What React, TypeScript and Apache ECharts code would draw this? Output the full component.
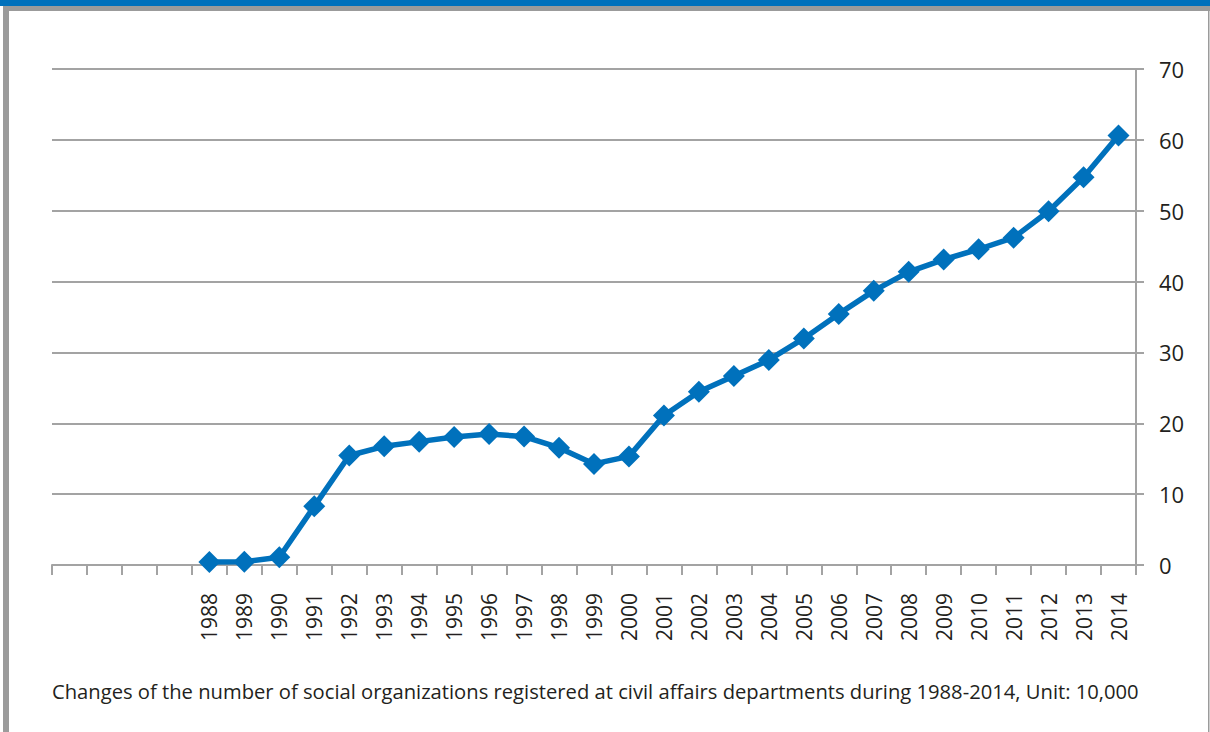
import React, { useEffect, useRef } from "react";
import * as echarts from "echarts";

const leadingBlanks = ["", " ", "  ", "   "];
const years = [
  "1988", "1989", "1990", "1991", "1992", "1993", "1994", "1995", "1996",
  "1997", "1998", "1999", "2000", "2001", "2002", "2003", "2004", "2005",
  "2006", "2007", "2008", "2009", "2010", "2011", "2012", "2013", "2014",
];
const counts = [
  0.44, 0.45, 1.09, 8.28, 15.45, 16.75, 17.41, 18.06, 18.48,
  18.13, 16.56, 14.27, 15.33, 21.09, 24.45, 26.66, 28.94, 31.98,
  35.44, 38.69, 41.37, 43.11, 44.56, 46.2, 49.93, 54.72, 60.6,
];
const yTicks = { min: 0, max: 70, interval: 10 };
const captionText =
  "Changes of the number of social organizations registered at civil affairs departments during 1988-2014, Unit: 10,000";

const FONT = "'Open Sans', 'Noto Sans', sans-serif";
const BLUE = "#0071BC";
const GREY = "#A3A3A3";
const TEXT = "#231F20";

export default function App() {
  const ref = useRef<HTMLDivElement>(null);
  useEffect(() => {
    if (!ref.current) return;
    const chart = echarts.init(ref.current, undefined, { renderer: "svg" });
    const categories = [...leadingBlanks, ...years];
    const seriesData = [...leadingBlanks.map(() => "-"), ...counts];
    chart.setOption({
      animation: false,
      backgroundColor: "#ffffff",
      textStyle: { fontFamily: FONT },
      grid: { left: 52, right: 74, top: 69, bottom: 167, containLabel: false },
      xAxis: {
        type: "category",
        data: categories,
        boundaryGap: true,
        axisLine: { show: true, lineStyle: { color: GREY, width: 2 } },
        axisTick: { show: true, interval: 0, length: 10, lineStyle: { color: GREY, width: 2 } },
        axisLabel: {
          interval: 0,
          rotate: 90,
          margin: 28,
          fontSize: 21,
          color: TEXT,
          fontFamily: FONT,
        },
        splitLine: { show: false },
      },
      yAxis: {
        type: "value",
        position: "right",
        min: yTicks.min,
        max: yTicks.max,
        interval: yTicks.interval,
        axisLine: { show: true, lineStyle: { color: GREY, width: 2 } },
        axisTick: { show: true, length: 8, lineStyle: { color: GREY, width: 2 } },
        axisLabel: { margin: 23, fontSize: 22, color: TEXT, fontFamily: FONT },
        splitLine: { show: true, lineStyle: { color: GREY, width: 2 } },
      },
      series: [
        {
          type: "line",
          data: seriesData,
          symbol: "diamond",
          symbolSize: 22,
          showSymbol: true,
          lineStyle: { color: BLUE, width: 5.5 },
          itemStyle: { color: BLUE },
          connectNulls: false,
          z: 5,
        },
      ],
      graphic: [
        { type: "rect", shape: { x: 0, y: 0, width: 1210, height: 6 }, style: { fill: BLUE }, silent: true },
        { type: "rect", shape: { x: 3, y: 6, width: 1207, height: 5 }, style: { fill: "#9B9B9B" }, silent: true },
        { type: "rect", shape: { x: 3, y: 6, width: 6, height: 726 }, style: { fill: "#9B9B9B" }, silent: true },
        { type: "rect", shape: { x: 1208, y: 11, width: 1.5, height: 721 }, style: { fill: "#9B9B9B" }, silent: true },
        {
          type: "text",
          x: 52,
          y: 691,
          style: {
            text: captionText,
            fill: TEXT,
            font: `20.2px ${FONT}`,
            textVerticalAlign: "middle",
            textAlign: "left",
          },
          silent: true,
        },
      ],
    });
    return () => chart.dispose();
  }, []);
  return (
    <div
      ref={ref}
      style={{ position: "fixed", left: 0, top: 0, width: 1210, height: 732 }}
    />
  );
}
